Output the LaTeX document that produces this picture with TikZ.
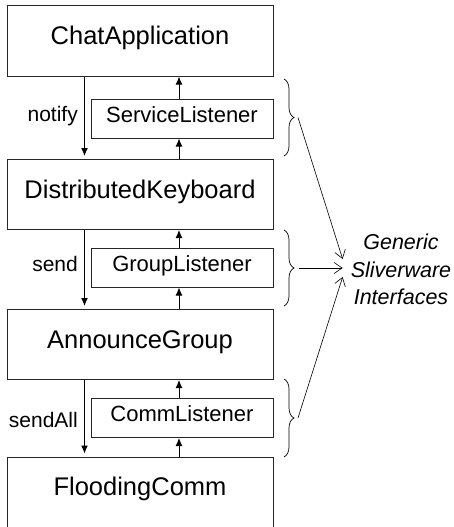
\documentclass[tikz,border=0pt]{standalone}
\usepackage{fontspec}
\setmainfont{Liberation Sans}
\usetikzlibrary{arrows.meta,decorations.pathreplacing}
\begin{document}
\begin{tikzpicture}[x=1pt,y=-1pt,
  layer/.style={draw=black!85,line width=1pt,minimum width=266pt,minimum height=70pt,
    inner sep=0pt,font=\fontsize{25.5}{30}\selectfont,text height=0.716em,text depth=0pt},
  listener/.style={draw=black!85,line width=1pt,minimum width=182pt,minimum height=39pt,
    inner sep=0pt,font=\fontsize{22}{26}\selectfont,text height=0.716em,text depth=0pt},
  call/.style={font=\fontsize{21}{25}\selectfont,anchor=base east,inner sep=0pt},
  flow/.style={line width=1pt,-{Latex[length=8pt,width=7pt]}},
  grp/.style={decorate,decoration={brace,amplitude=10pt},line width=0.7pt},
  pointer/.style={line width=0.6pt,-{Straight Barb[length=8pt,width=11pt]}}
]
\useasboundingbox (0,0) rectangle (454,527);

% protocol layers
\node[layer] (app) at (140,41)    {ChatApplication};
\node[layer] (kb)  at (140,194.5) {DistributedKeyboard};
\node[layer] (ag)  at (140,344.5) {AnnounceGroup};
\node[layer] (fc)  at (140,492)   {FloodingComm};

% listener interfaces between the layers
\node[listener] (sl) at (182,118.5) {ServiceListener};
\node[listener] (gl) at (182,267.5) {GroupListener};
\node[listener] (cl) at (182,418)   {CommListener};

% downward calls
\draw[flow] ([xshift=78pt]app.south west) -- ([xshift=78pt,yshift=3pt]kb.north west);
\draw[flow] ([xshift=78pt]kb.south west)  -- ([xshift=78pt,yshift=3pt]ag.north west);
\draw[flow] ([xshift=78pt]ag.south west)  -- ([xshift=78pt,yshift=3pt]fc.north west);
\node[call] (nt) at (78,121) {notify};
\node[call] (sd) at (78,271) {send};
\node[call] (sa) at (78,427) {sendAll};

% upward events through the listeners
\draw[flow] ([xshift=-3pt]sl.north) -- ([xshift=-3pt]sl.north |- app.south);
\draw[flow] ([xshift=-3pt]sl.south |- kb.north) -- ([xshift=-3pt]sl.south);
\draw[flow] ([xshift=-3pt]gl.north) -- ([xshift=-3pt]gl.north |- kb.south);
\draw[flow] ([xshift=-3pt]gl.south |- ag.north) -- ([xshift=-3pt]gl.south);
\draw[flow] ([xshift=-3pt]cl.north) -- ([xshift=-3pt]cl.north |- ag.south);
\draw[flow] ([xshift=-3pt]cl.south |- fc.north) -- ([xshift=-3pt]cl.south);

% braces grouping each interface
\draw[grp] (284,79)  -- (284,156);
\draw[grp] (284,230) -- (284,306);
\draw[grp] (284,379) -- (284,457);
\coordinate (b1) at (298,117.5);
\coordinate (b2) at (299,268);
\coordinate (b3) at (298,418);

\node[font=\fontsize{21.5}{27.5}\selectfont\itshape,align=center,inner sep=0pt] (gsi) at (401,269.5)
  {Generic\\Sliverware\\Interfaces};

\draw[pointer] (b1) -- ([xshift=-8pt,yshift=10.5pt]gsi.west);
\draw[pointer] (b2) -- ([xshift=-8pt,yshift=1.5pt]gsi.west);
\draw[pointer] (b3) -- ([xshift=-8pt,yshift=-7.5pt]gsi.west);
\end{tikzpicture}
\end{document}
